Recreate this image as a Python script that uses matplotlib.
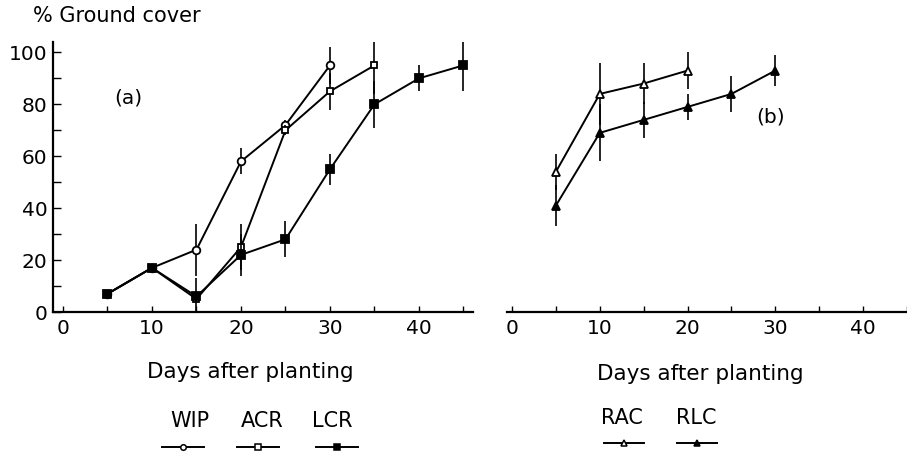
import matplotlib
matplotlib.use("Agg")
import matplotlib.pyplot as plt
from matplotlib.lines import Line2D
from matplotlib.ticker import MultipleLocator

plt.rcParams['font.family'] = ['DejaVu Sans']

# ---------------- data ----------------
wip_days = [5, 10, 15, 20, 25, 30]
wip = [7, 17, 24, 58, 72, 95]
wip_err = [0, 0, 10, 5, 2, 7]

acr_days = [5, 10, 15, 20, 25, 30, 35]
acr = [7, 17, 5, 25, 70, 85, 95]
acr_err = [0, 0, 0, 9, 2, 7, 11]

lcr_days = [5, 10, 15, 20, 25, 30, 35, 40, 45]
lcr = [7, 17, 6, 22, 28, 55, 80, 90, 95]
lcr_err = [0, 0, 7, 8, 7, 6, 9, 5, 10]

rac_days = [5, 10, 15, 20]
rac = [54, 84, 88, 93]
rac_err = [7, 12, 8, 7]

rlc_days = [5, 10, 15, 20, 25, 30]
rlc = [41, 69, 74, 79, 84, 93]
rlc_err = [8, 11, 7, 5, 7, 6]

x_ticklabels = [0, 10, 20, 30, 40]
y_ticklabels = [0, 20, 40, 60, 80, 100]
legend_a = ["WIP", "ACR", "LCR"]
legend_b = ["RAC", "RLC"]

# ---------------- figure ----------------
W, H = 907, 455
fig = plt.figure(figsize=(W / 100, H / 100), dpi=100)

def px(x0, y0, w, h):
    return [x0 / W, 1 - (y0 + h) / H, w / W, h / H]

ax_a = fig.add_axes(px(53, 42, 420, 270))
ax_b = fig.add_axes(px(507, 42, 400, 270))

lw = 1.4
ms = 5.5
styles = {
    "WIP": dict(marker="o", mfc="white", mec="black", ms=ms),
    "ACR": dict(marker="s", mfc="white", mec="black", ms=ms - 0.5),
    "LCR": dict(marker="s", mfc="black", mec="black", ms=ms + 0.5),
    "RAC": dict(marker="^", mfc="white", mec="black", ms=ms + 0.5),
    "RLC": dict(marker="^", mfc="black", mec="black", ms=ms + 0.5),
}

def series(ax, x, y, e, key, z):
    ax.errorbar(x, y, yerr=e, fmt="none", ecolor="black", elinewidth=1.2,
                capsize=0, zorder=z)
    ax.plot(x, y, color="black", lw=lw, mew=1.3, zorder=z + 0.5, **styles[key])

series(ax_a, wip_days, wip, wip_err, "WIP", 3)
series(ax_a, acr_days, acr, acr_err, "ACR", 4)
series(ax_a, lcr_days, lcr, lcr_err, "LCR", 5)
series(ax_b, rac_days, rac, rac_err, "RAC", 3)
series(ax_b, rlc_days, rlc, rlc_err, "RLC", 4)

for ax in (ax_a, ax_b):
    ax.set_ylim(0, 104)
    ax.spines["top"].set_visible(False)
    ax.spines["right"].set_visible(False)
    ax.spines["bottom"].set_linewidth(1.6)
    ax.spines["left"].set_linewidth(1.6)
    ax.set_xticks(x_ticklabels)
    ax.set_xticklabels([str(v) for v in x_ticklabels])
    ax.xaxis.set_minor_locator(MultipleLocator(5))
    ax.tick_params(axis="x", which="both", direction="in", length=4.5,
                   width=1.0, pad=5, labelsize=14.5)
    ax.patch.set_visible(False)

ax_a.set_xlabel("Days after planting", fontsize=15.5, labelpad=17)
ax_b.set_xlabel("Days after planting", fontsize=15.5, labelpad=19)
ax_a.xaxis.label.set_position((0.469, 0))
ax_b.xaxis.label.set_position((0.4825, 0))

ax_a.set_xlim(-1.12, 46.07)
ax_b.set_xlim(-0.57, 45.0)

ax_a.set_yticks(y_ticklabels)
ax_a.set_yticklabels([str(v) for v in y_ticklabels])
ax_a.yaxis.set_minor_locator(MultipleLocator(10))
ax_a.tick_params(axis="y", which="both", direction="in", length=5.5,
                 width=1.0, pad=4, labelsize=14.5)

ax_b.spines["left"].set_visible(False)
ax_b.tick_params(axis="y", which="both", left=False, labelleft=False)

ax_a.text(7.3, 82.5, "(a)", fontsize=14.5, ha="center", va="center")
ax_b.text(29.5, 75, "(b)", fontsize=14.5, ha="center", va="center")

fig.text(33 / W, 1 - 6 / H, "% Ground cover", fontsize=15, ha="left", va="top")

# ---------------- legends (labels above short keys) ----------------
def legend_item(label, label_x, label_y, key_x, key_y, half, key):
    fig.text(label_x / W, 1 - label_y / H, label, fontsize=15, ha="center",
             va="center")
    st = dict(styles[key])
    st["ms"] = 4
    line = Line2D([(key_x - half) / W, key_x / W, (key_x + half) / W],
                  [1 - key_y / H] * 3, transform=fig.transFigure,
                  color="black", lw=1.4, markevery=[1], mew=1.1, **st)
    fig.add_artist(line)

for lab, lx, kx in zip(legend_a, [190, 262, 332], [183, 258, 337]):
    legend_item(lab, lx, 421, kx, 447, 21, lab)
for lab, lx, kx in zip(legend_b, [622, 696], [624, 697]):
    legend_item(lab, lx, 418, kx, 443, 20, lab)

fig.savefig("out.png", dpi=100)
